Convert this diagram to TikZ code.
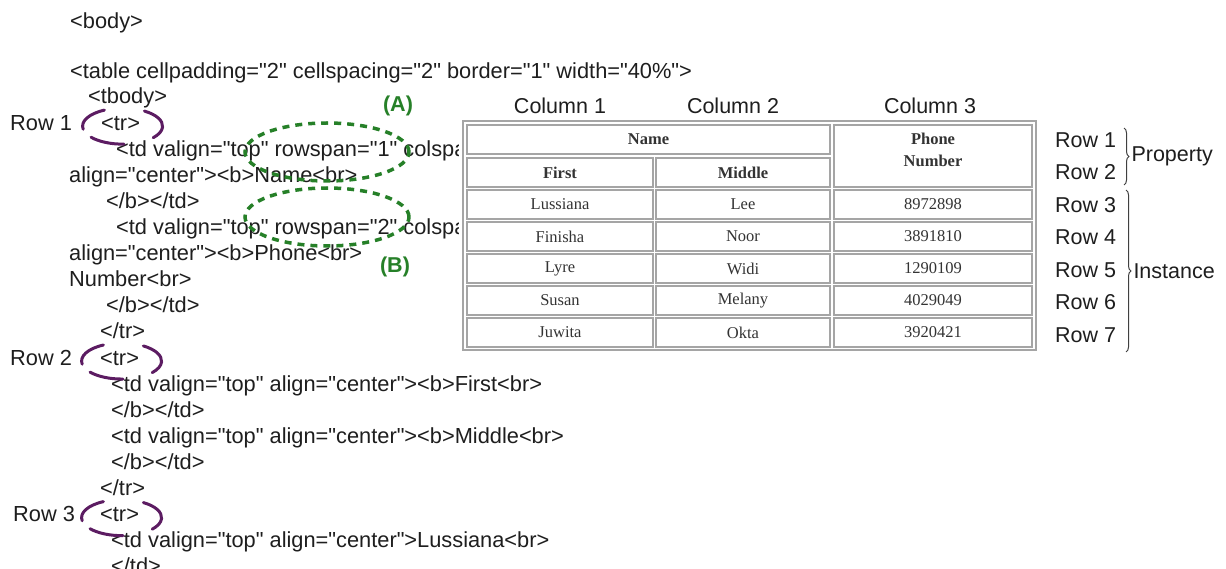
\documentclass[tikz,border=0pt]{standalone}
\usepackage{fontspec}
\setmainfont{Liberation Sans}[Ligatures=TeXOff]
\newfontfamily\cellfont{Liberation Serif}
\usetikzlibrary{shapes.geometric,decorations.pathreplacing}
\definecolor{trpurple}{RGB}{92,28,98}
\definecolor{spangreen}{RGB}{38,128,40}
\definecolor{cellline}{RGB}{165,165,165}
\definecolor{codeink}{RGB}{30,30,30}

\begin{document}
\begin{tikzpicture}[x=1pt,y=-1pt,
    code/.style={anchor=base west, inner sep=0pt, text=codeink,
      font=\fontsize{21.8}{25}\selectfont},
    lab/.style={inner sep=0pt, text=codeink, font=\fontsize{21.5}{25}\selectfont},
    cell/.style={draw=cellline, line width=1.6pt, inner sep=0pt, text=black!80,
      font=\cellfont\fontsize{16.5}{20}\selectfont},
    hdr/.style={cell, font=\cellfont\bfseries\fontsize{16.5}{22}\selectfont},
    trmark/.style={trpurple, line width=3pt, line cap=round},
    spanmark/.style={ellipse, draw=spangreen, line width=3.5pt,
      dash pattern=on 7pt off 6pt, minimum width=164pt, minimum height=58pt,
      inner sep=0pt},
    spanlab/.style={inner sep=0pt, text=spangreen,
      font=\bfseries\fontsize{21.5}{25}\selectfont},
    grp/.style={decorate, decoration={brace, amplitude=5pt}, draw=black!75,
      line width=1pt},
  ]
  \path[use as bounding box, fill=white] (0,0) rectangle (1226,569);
  \clip (0,0) rectangle (1226,569);

  % html source
  \node[code] (body) at (70,29) {<body>};
  \node[code] (table) at (70,79) {<table cellpadding="2" cellspacing="2" border="1" width="40\%">};
  \node[code] (tbody) at (88,104) {<tbody>};
  \node[code] (rowa) at (10,130.1) {Row 1};
  \node[code] (tra) at (101,130.1) {<tr>};
  \begin{scope}
    \clip (0,130) rectangle (458,245);
    \node[code] (tdname) at (116,156.2) {<td valign="top" rowspan="1" colspa};
    \node[code] (tdphone) at (116,234.5) {<td valign="top" rowspan="2" colspa};
  \end{scope}
  \node[code] (name) at (69,182.3) {align="center"><b>Name<br>};
  \node[code] (enda) at (106,208.4) {</b></td>};
  \node[code] (phone) at (69,260.6) {align="center"><b>Phone<br>};
  \node[code] (number) at (69,286.7) {Number<br>};
  \node[code] (endb) at (106,312.8) {</b></td>};
  \node[code] (closea) at (100,338.9) {</tr>};
  \node[code] (rowb) at (10,365) {Row 2};
  \node[code] (trb) at (100,365) {<tr>};
  \node[code] (tdfirst) at (111,391.1) {<td valign="top" align="center"><b>First<br>};
  \node[code] (endc) at (111,417.2) {</b></td>};
  \node[code] (tdmiddle) at (111,443.3) {<td valign="top" align="center"><b>Middle<br>};
  \node[code] (endd) at (111,469.4) {</b></td>};
  \node[code] (closeb) at (100,495.5) {</tr>};
  \node[code] (rowc) at (13,521.6) {Row 3};
  \node[code] (trc) at (100,521.6) {<tr>};
  \node[code] (tdluss) at (111,547.7) {<td valign="top" align="center">Lussiana<br>};
  \node[code] (ende) at (111,573.8) {</td>};

  % rendered table
  \node[lab] (cola) at (560,106) {Column 1};
  \node[lab] (colb) at (733,106) {Column 2};
  \node[lab] (colc) at (930,106) {Column 3};
  \node[draw=cellline, line width=2pt, minimum width=573pt, minimum height=229pt,
    inner sep=0pt] (tbl) at (749.5,235.5) {};
  \node[hdr, minimum width=363pt, minimum height=29pt] (hname) at (648.5,139.5) {Name};
  \node[hdr, minimum width=186pt, minimum height=29pt] (hfirst) at (560,172.5) {First};
  \node[hdr, minimum width=174pt, minimum height=29pt] (hmiddle) at (743,172.5) {Middle};
  \node[hdr, minimum width=198pt, minimum height=62pt] (hphone) at (933,156) {};
  \node[hdr, draw=none, align=center, anchor=north] (hphonetxt)
    at ([yshift=-8pt]hphone.north) {Phone\\Number};
  \foreach \fn/\mn/\pn [count=\i] in {Lussiana/Lee/8972898, Finisha/Noor/3891810,
      Lyre/Widi/1290109, Susan/Melany/4029049, Juwita/Okta/3920421} {
    \node[cell, minimum width=186pt, minimum height=29pt] (first\i)
      at (560,{204.5+32*(\i-1)}) {\fn};
    \node[cell, minimum width=174pt, minimum height=29pt] (middle\i)
      at (743,{204.5+32*(\i-1)}) {\mn};
    \node[cell, minimum width=198pt, minimum height=29pt] (phone\i)
      at (933,{204.5+32*(\i-1)}) {\pn};
  }

  % row labels and groups
  \foreach \k in {1,...,7}
    \node[lab, anchor=west] (r\k) at (1055,{140+32.5*(\k-1)}) {Row \k};
  \coordinate (ptop) at (1124,128);
  \coordinate (pbot) at (1124,185);
  \coordinate (itop) at (1126,190);
  \coordinate (ibot) at (1126,352);
  \draw[grp] (ptop) -- (pbot) node[midway, lab, anchor=west, xshift=7pt] (prop) {Property};
  \draw[grp] (itop) -- (ibot) node[midway, lab, anchor=west, xshift=7pt] (inst) {Instance};

  % marks
  \foreach \t in {tra,trb,trc} {
    \draw[trmark] ([shift={(2,3)}]\t.center) ++(170:40 and 18)
      arc[start angle=170, end angle=243, x radius=40, y radius=18];
    \draw[trmark] ([shift={(2,3)}]\t.center) ++(303:40 and 18)
      arc[start angle=303, end angle=400, x radius=40, y radius=18];
    \draw[trmark] ([shift={(2,3)}]\t.center) ++(142:40 and 18)
      arc[start angle=142, end angle=88, x radius=40, y radius=18];
  }
  \node[spanmark] (spana) at (327,152) {};
  \node[spanmark] (spanb) at (327,217) {};
  \node[spanlab] (laba) at (398,106) {(A)};
  \node[spanlab] (labb) at (395,267) {(B)};
\end{tikzpicture}
\end{document}
